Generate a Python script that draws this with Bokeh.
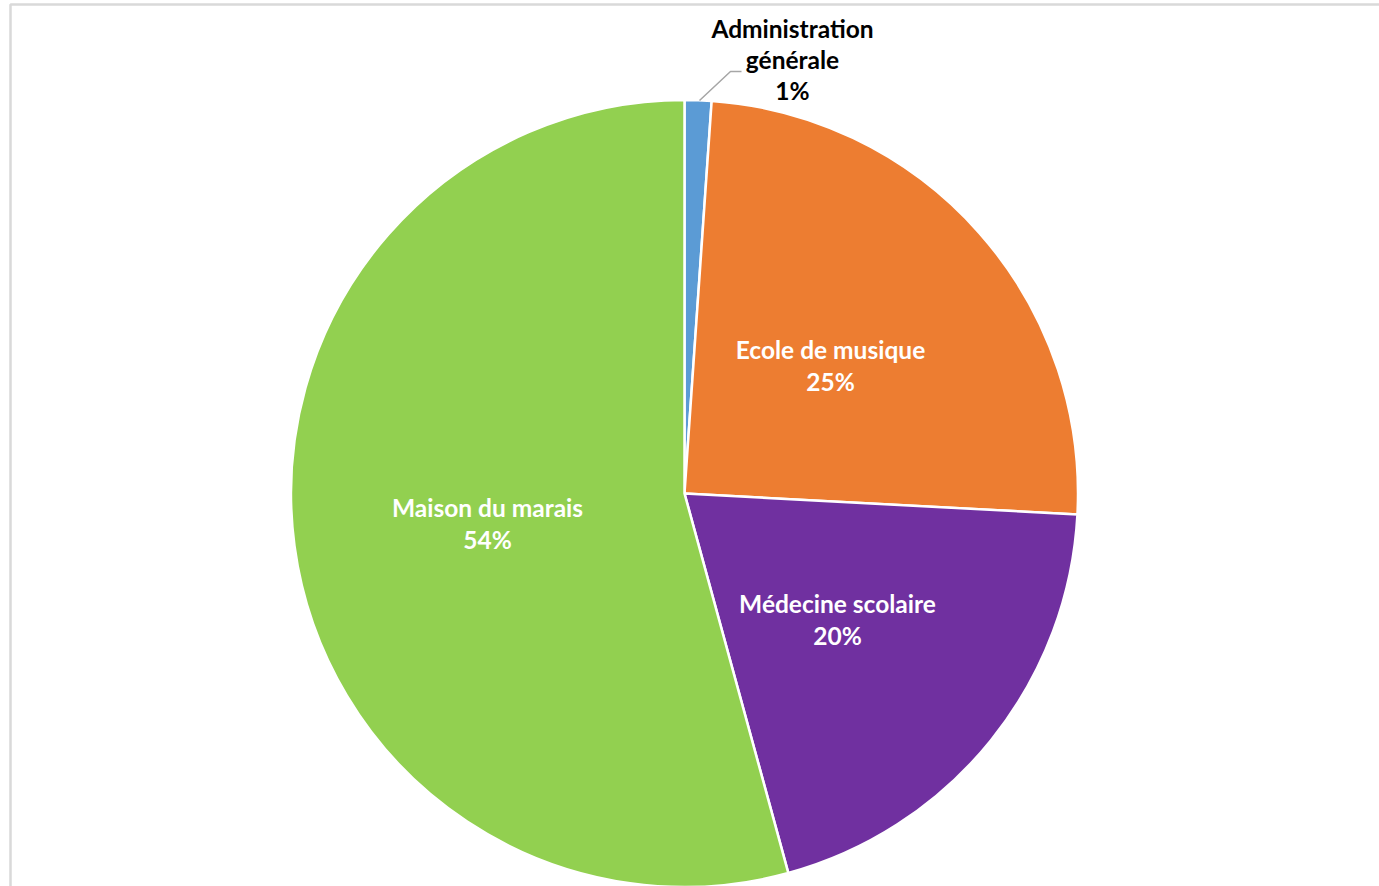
import numpy as np
from bokeh.plotting import figure
from bokeh.models import Range1d, ColumnDataSource
from bokeh.core.properties import value
from bokeh.embed import file_html
from bokeh.resources import INLINE

# ---- data ----
categories = ["Administration générale", "Ecole de musique", "Médecine scolaire", "Maison du marais"]
shares = [1.1, 24.75, 19.9, 54.25]
colors = ["#5B9BD5", "#ED7D31", "#7030A0", "#92D050"]
label_lines = ["Administration\ngénérale", "Ecole de musique", "Médecine scolaire", "Maison du marais"]

W, H = 1379, 886
p = figure(width=W, height=H, x_range=Range1d(0, W), y_range=Range1d(0, H),
           output_backend="svg", toolbar_location=None, min_border=0,
           outline_line_color=None, background_fill_color="white")
p.axis.visible = False
p.grid.visible = False

cx, cy, r = 684, H - 493, 393.5

vals = np.array(shares, dtype=float)
frac = vals / vals.sum()
cum = np.concatenate([[0], np.cumsum(frac)])
start = np.pi / 2 - 2 * np.pi * cum[:-1]
end = np.pi / 2 - 2 * np.pi * cum[1:]

src = ColumnDataSource(dict(start=start, end=end, color=colors))
p.wedge(x=cx, y=cy, radius=r, start_angle="start", end_angle="end",
        direction="clock", fill_color="color", line_color="white", line_width=2.5,
        source=src)

# chart frame (light grey)
p.line(x=[10, 10, W + 5], y=[-5, H - 4, H - 4], line_color="#D9D9D9", line_width=2.5)

# labels
pct = [f"{round(v)}%" for v in vals / vals.sum() * 100]
texts = [f"{l}\n{q}" for l, q in zip(label_lines, pct)]
lab_x = [792, 830, 837, 487]
lab_y = [H - 59, H - 365, H - 619, H - 523]
lab_col = ["#000000", "#FFFFFF", "#FFFFFF", "#FFFFFF"]
lsrc = ColumnDataSource(dict(x=lab_x, y=lab_y, t=texts, c=lab_col))
p.text(x="x", y="y", text="t", text_color="c", source=lsrc,
       text_font=value("Lato"), text_font_style="bold", text_font_size="24.5px",
       text_align="center", text_baseline="middle", text_line_height=1.08)

# leader line for the small slice
p.line(x=[699, 730, 741], y=[H - 100, H - 71, H - 71], line_color="#A6A6A6", line_width=1.5)

open("out.html", "w").write(file_html(p, INLINE))
